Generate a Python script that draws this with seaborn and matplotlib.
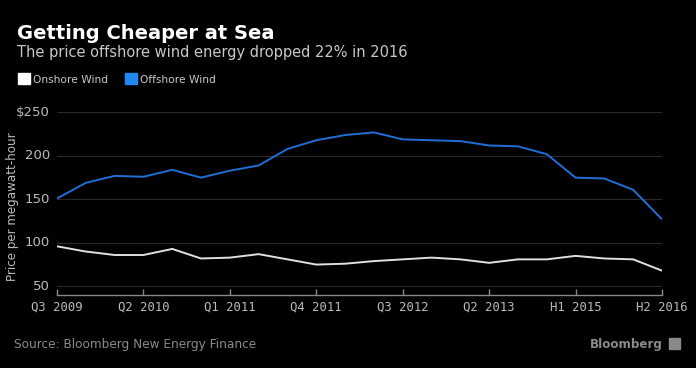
import matplotlib
matplotlib.use("Agg")
import matplotlib.pyplot as plt
import seaborn as sns
import pandas as pd
from matplotlib.patches import Rectangle

periods = ["Q3 2009", "Q4 2009", "Q1 2010", "Q2 2010", "Q3 2010", "Q4 2010",
           "Q1 2011", "Q2 2011", "Q3 2011", "Q4 2011", "Q1 2012", "Q2 2012",
           "Q3 2012", "Q4 2012", "Q1 2013", "Q2 2013", "H2 2013", "H1 2014",
           "H1 2015", "H2 2015", "H1 2016", "H2 2016"]
offshore = [151, 169, 177, 176, 184, 175, 183, 189, 208, 218, 224, 227,
            219, 218, 217, 212, 211, 202, 175, 174, 161, 127]
onshore = [96, 90, 86, 86, 93, 82, 83, 87, 81, 75, 76, 79,
           81, 83, 81, 77, 81, 81, 85, 82, 81, 68]
tick_labels = ["Q3 2009", "Q2 2010", "Q1 2011", "Q4 2011", "Q3 2012",
               "Q2 2013", "H1 2015", "H2 2016"]
y_ticks = [50, 100, 150, 200, 250]
y_tick_labels = ["50", "100", "150", "200", "$250"]

df = pd.DataFrame({"idx": range(len(periods)), "period": periods,
                   "Onshore Wind": onshore, "Offshore Wind": offshore})
long = df.melt(id_vars=["idx", "period"], var_name="series", value_name="price")

sns.set_theme(style="dark")
plt.rcParams['font.family'] = ['DejaVu Sans']

fig = plt.figure(figsize=(6.96, 3.68), dpi=100, facecolor="black")
ax = fig.add_axes([57/696, 1-295/368, (662-57)/696, (295-102)/368])
ax.set_facecolor("black")

palette = {"Onshore Wind": "#e0e0e0", "Offshore Wind": "#1f6fd6"}
sns.lineplot(data=long, x="idx", y="price", hue="series", palette=palette,
             linewidth=1.4, ax=ax, legend=False)

ax.set_xlim(0, len(periods) - 1)
ax.set_ylim(40, 262)
ax.set_yticks(y_ticks)
ax.set_yticklabels(y_tick_labels)
tick_pos = [periods.index(t) for t in tick_labels]
ax.set_xticks(tick_pos)
ax.set_xticklabels(tick_labels, family="DejaVu Sans Mono")
ax.grid(axis="y", color="#2a2a2a", linewidth=0.8)
ax.grid(axis="x", visible=False)
for s in ["top", "right", "left"]:
    ax.spines[s].set_visible(False)
ax.spines["bottom"].set_color("#888888")
ax.spines["bottom"].set_linewidth(1.0)
ax.tick_params(axis="x", direction="in", length=4, color="#888888", width=1,
               colors="#bbbbbb", labelsize=8.8, pad=4, bottom=True)
ax.tick_params(axis="y", length=0, labelcolor="#bbbbbb", labelsize=9.5, pad=5)
for lab in ax.get_yticklabels():
    lab.set_verticalalignment("center")
ax.set_xlabel("")
ax.set_ylabel("Price per megawatt-hour", color="#bbbbbb", fontsize=8.6)
ax.yaxis.set_label_coords((19 - 57) / 605, 0.46)

fig.text(17/696, 1-39/368, "Getting Cheaper at Sea", color="white",
         fontsize=14, fontweight="bold", ha="left", va="baseline")
fig.text(17/696, 1-57/368, "The price offshore wind energy dropped 22% in 2016",
         color="#c8c8c8", fontsize=10.5, ha="left", va="baseline")

fig.patches.append(Rectangle((18/696, 1-84/368), 12/696, 11/368,
                             transform=fig.transFigure, color="white"))
fig.text(33/696, 1-83/368, "Onshore Wind", color="#c8c8c8", fontsize=7.7,
         ha="left", va="baseline")
fig.patches.append(Rectangle((125/696, 1-84/368), 12/696, 11/368,
                             transform=fig.transFigure, color="#1e88f0"))
fig.text(140/696, 1-83/368, "Offshore Wind", color="#c8c8c8", fontsize=7.7,
         ha="left", va="baseline")

fig.text(14/696, 1-348/368, "Source: Bloomberg New Energy Finance",
         color="#8a8a8a", fontsize=8.7, ha="left", va="baseline")
fig.text(663/696, 1-348/368, "Bloomberg", color="#8a8a8a", fontsize=8.6,
         fontweight="bold", ha="right", va="baseline")
fig.patches.append(Rectangle((669/696, 1-349/368), 11/696, 11/368,
                             transform=fig.transFigure, color="#8a8a8a"))

fig.savefig("out.png", dpi=100, facecolor="black")
